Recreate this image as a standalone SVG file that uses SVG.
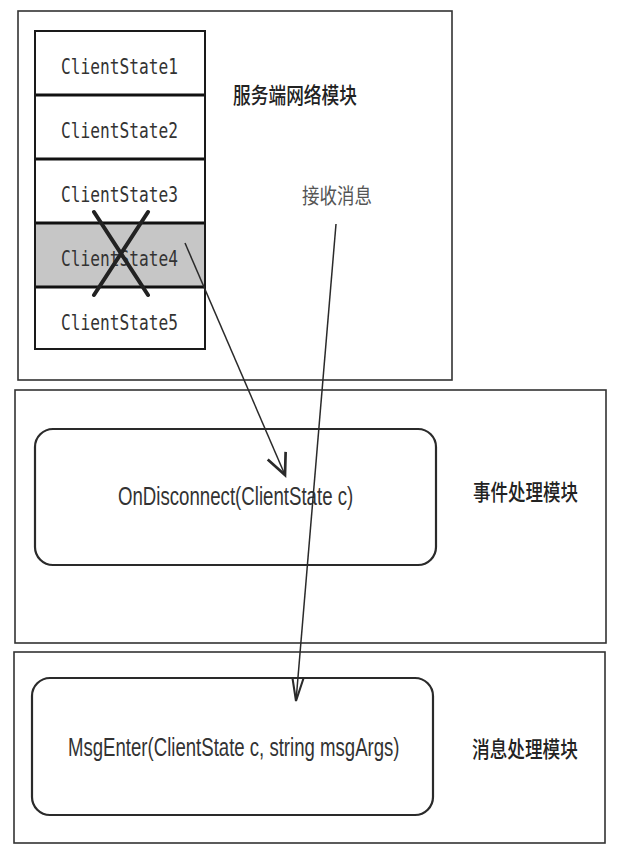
<svg xmlns="http://www.w3.org/2000/svg" width="617" height="854" viewBox="0 0 617 854">
<style>
.frame{fill:#fff;stroke:#333;stroke-width:1.6}
.rbox{fill:#fff;stroke:#2a2a2a;stroke-width:2.2}
.cell{fill:#fff;stroke:#1a1a1a;stroke-width:2}
.div{stroke:#111;stroke-width:3}
.mono{font-family:"DejaVu Sans Mono","Liberation Mono",monospace;font-size:22px;fill:#333}
.sans{font-family:"Liberation Sans","Noto Sans",sans-serif;font-size:25px;fill:#333}
.cjk{font-family:"Noto Sans CJK SC","Noto Sans",sans-serif;font-size:22px;font-weight:500;fill:#222}
.conn{fill:none;stroke:#2a2a2a;stroke-width:1.5}
.x{stroke:#222;stroke-width:4;stroke-linecap:round}
</style>
<defs>
<marker id="headA" markerUnits="userSpaceOnUse" markerWidth="30" markerHeight="30" viewBox="-16 -10 20 20" refX="0" refY="0" orient="auto">
<path d="M-14,-6.5 L0,0 L-14,6.5" fill="none" stroke="#2a2a2a" stroke-width="1.8"/>
</marker>
<marker id="headB" markerUnits="userSpaceOnUse" markerWidth="30" markerHeight="30" viewBox="-22 -10 26 20" refX="0" refY="0" orient="auto">
<path d="M-20,-4.8 L0,0 L-20,4.8" fill="none" stroke="#2a2a2a" stroke-width="1.8"/>
</marker>
</defs>
<rect width="617" height="854" fill="#fff"/>

<g id="server-module">
<rect class="frame" x="18" y="11" width="434" height="369"/>
<text class="cjk" transform="translate(233,103) scale(0.805,1)">服务端网络模块</text>
</g>

<g id="client-list">
<rect class="cell" x="35" y="31" width="170" height="318"/>
<rect x="36" y="223" width="168" height="64" fill="#c6c6c6"/>
<line class="div" x1="35" y1="95" x2="205" y2="95"/>
<line class="div" x1="35" y1="159" x2="205" y2="159"/>
<line class="div" x1="35" y1="223" x2="205" y2="223"/>
<line class="div" x1="35" y1="287" x2="205" y2="287"/>
<rect x="35" y="31" width="170" height="318" fill="none" stroke="#1a1a1a" stroke-width="2"/>
</g>
<g id="cs1"><text class="mono" transform="translate(61,74) scale(0.736,1)">ClientState1</text></g>
<g id="cs2"><text class="mono" transform="translate(61,138) scale(0.736,1)">ClientState2</text></g>
<g id="cs3"><text class="mono" transform="translate(61,202) scale(0.736,1)">ClientState3</text></g>
<g id="cs4">
<text class="mono" transform="translate(61,266) scale(0.736,1)">ClientState4</text>
<line class="x" x1="94" y1="212" x2="148" y2="295"/>
<line class="x" x1="148" y1="212" x2="94" y2="295"/>
</g>
<g id="cs5"><text class="mono" transform="translate(61,330) scale(0.736,1)">ClientState5</text></g>

<g id="event-module">
<rect class="frame" x="15" y="390" width="591" height="253"/>
<text class="cjk" transform="translate(473,500) scale(0.795,1)">事件处理模块</text>
</g>
<g id="on-disconnect">
<rect class="rbox" x="35" y="429" width="401" height="136" rx="18" ry="18"/>
<text class="sans" transform="translate(118,505) scale(0.746,1)">OnDisconnect(ClientState c)</text>
</g>

<g id="msg-module">
<rect class="frame" x="14" y="652" width="591" height="191"/>
<text class="cjk" transform="translate(472,757) scale(0.803,1)">消息处理模块</text>
</g>
<g id="msg-enter">
<rect class="rbox" x="32" y="678" width="401" height="137" rx="18" ry="18"/>
<text class="sans" transform="translate(68,756) scale(0.744,1)">MsgEnter(ClientState c, string msgArgs)</text>
</g>

<g id="connectors">
<line class="conn" x1="185" y1="243" x2="285" y2="475" marker-end="url(#headA)"/>
<line class="conn" x1="336" y1="224" x2="296" y2="701" marker-end="url(#headB)"/>
<text class="cjk" transform="translate(302,203) scale(0.833,1)" style="fill:#555;font-size:21px;font-weight:normal">接收消息</text>
</g>
</svg>
